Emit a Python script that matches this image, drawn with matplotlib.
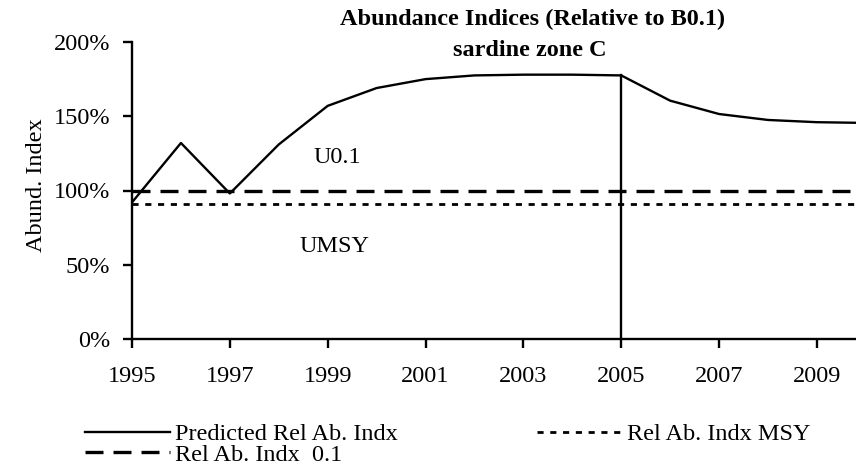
import matplotlib.pyplot as plt
from matplotlib.ticker import PercentFormatter

plt.rcParams['font.family'] = ['Liberation Serif', 'DejaVu Serif']

years = [1995, 1996, 1997, 1998, 1999, 2000, 2001, 2002, 2003, 2004, 2005,
         2006, 2007, 2008, 2009, 2010]
predicted = [92, 132, 98, 131, 157, 169, 175, 177.5, 178, 178, 177.5,
             160.5, 151.5, 147.5, 146, 145.5]
ref_01 = [100] * len(years)
ref_msy = [91] * len(years)
cut_year = 2005

fs = 17.5
fig = plt.figure(figsize=(8.56, 4.67), dpi=100)
ax = fig.add_axes([132 / 856, 1 - 339 / 467, (858 - 132) / 856, (339 - 42) / 467])

ax.plot(years, predicted, color='black', lw=1.7, label='Predicted Rel Ab. Indx')
ax.plot(years, ref_01, color='black', lw=2.4, dashes=(5.4, 3), label='Rel Ab. Indx  0.1')
ax.plot(years, ref_msy, color='black', lw=2.0, dashes=(2.2, 2.4), label='Rel Ab. Indx MSY')
ax.plot([cut_year, cut_year], [0, predicted[years.index(cut_year)]], color='black', lw=1.7)

ax.set_xlim(1995, 2009.84)
ax.set_ylim(0, 200)
ax.set_xticks(range(1995, 2010, 2))
ax.set_yticks(range(0, 201, 50))
ax.yaxis.set_major_formatter(PercentFormatter(decimals=0))
for s in ['top', 'right']:
    ax.spines[s].set_visible(False)
ax.spines['left'].set_linewidth(1.7)
ax.spines['bottom'].set_linewidth(1.7)
ax.tick_params(direction='out', length=6.5, width=1.7, labelsize=fs)
ax.tick_params(axis='y', pad=9)
ax.tick_params(axis='x', pad=13)
ax.set_ylabel('Abund. Index', fontsize=fs)
ax.yaxis.set_label_coords(-0.117, 0.518)

ax.text(1999.2, 122, 'U0.1', fontsize=fs, ha='center', va='center')
ax.text(1999.15, 62, 'UMSY', fontsize=fs, ha='center', va='center')

fig.text(533 / 856, 1 - 19 / 467, 'Abundance Indices (Relative to B0.1)', fontsize=fs,
         fontweight='bold', ha='center', va='center')
fig.text(530 / 856, 1 - 51 / 467, 'sardine zone C', fontsize=fs,
         fontweight='bold', ha='center', va='center')

h, l = ax.get_legend_handles_labels()
leg = fig.legend(h, l, loc='upper left', bbox_to_anchor=(85 / 856, 1 - 423 / 467),
                 ncol=2, frameon=False, fontsize=fs, borderpad=0, borderaxespad=0,
                 handlelength=3.5, handletextpad=0.2, columnspacing=5.75,
                 labelspacing=-0.05)

fig.savefig('out.png', dpi=100)
